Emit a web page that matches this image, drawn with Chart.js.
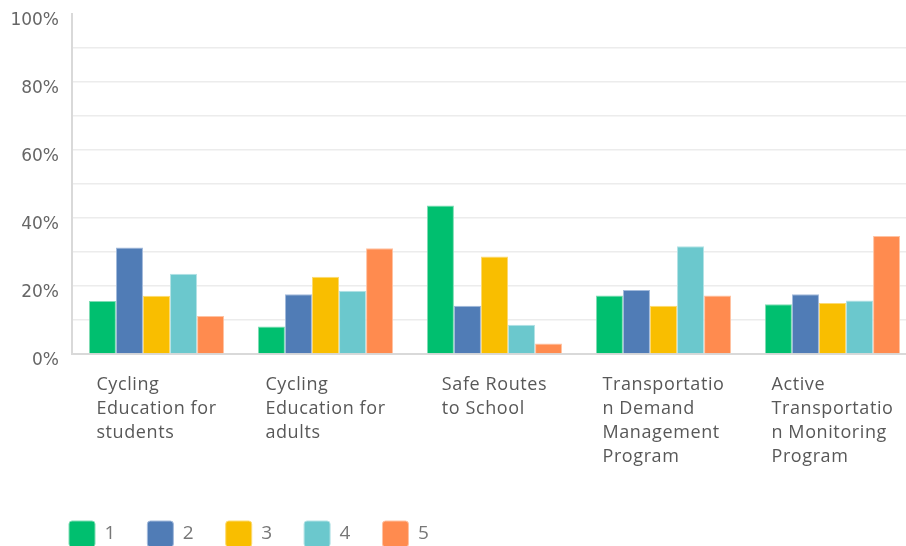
<!DOCTYPE html>
<html>
<head>
<meta charset="utf-8">
<title>Program ratings</title>
<script src="https://cdn.jsdelivr.net/npm/chart.js@4/dist/chart.umd.min.js"></script>
<style>
  html, body { margin: 0; padding: 0; background: #fff; overflow: hidden; }
  #wrap { position: absolute; left: 0; top: 0; width: 917px; height: 557px; }
</style>
</head>
<body>
<div id="wrap"><canvas id="ratings" width="917" height="557"></canvas></div>
<script>
// categories, each one split into lines for the axis labels
const programs = [
  ['Cycling', 'Education for', 'students'],
  ['Cycling', 'Education for', 'adults'],
  ['Safe Routes', 'to School'],
  ['Transportatio', 'n Demand', 'Management', 'Program'],
  ['Active', 'Transportatio', 'n Monitoring', 'Program']
];

// share of answers per rating (percent)
const rating1 = [15.6, 8.1, 43.7, 17.2, 14.6];
const rating2 = [31.3, 17.6, 14.2, 18.8, 17.6];
const rating3 = [17.1, 22.7, 28.7, 14.2, 15.0];
const rating4 = [23.6, 18.6, 8.6, 31.7, 15.7];
const rating5 = [11.2, 31.1, 3.1, 17.2, 34.7];

const ratingNames = ['1', '2', '3', '4', '5'];
const yTicks = [0, 20, 40, 60, 80, 100];

const fills = ['#00bf6f', '#507cb6', '#f9be00', '#6bc8cd', '#ff8b4f'];
const edges = ['#7fdcb4', '#a3badb', '#fcda73', '#b3e2e5', '#ffc2a2'];

const series = [rating1, rating2, rating3, rating4, rating5];

// x labels: block centred under the group, lines left aligned
const groupLabels = {
  id: 'groupLabels',
  afterDraw(chart) {
    const ctx = chart.ctx;
    const xs = chart.scales.x;
    const top = chart.chartArea.bottom + 31;
    ctx.save();
    ctx.font = '18px "Open Sans"';
    ctx.letterSpacing = '0.6px';
    ctx.fillStyle = '#585858';
    ctx.textAlign = 'left';
    ctx.textBaseline = 'middle';
    programs.forEach((lines, i) => {
      const w = Math.max(...lines.map(l => ctx.measureText(l).width));
      const left = xs.getPixelForValue(i) - w / 2;
      lines.forEach((l, k) => ctx.fillText(l, left, top + k * 24));
    });
    ctx.restore();
  }
};

// push the legend row in so it lines up under the plot
const legendShift = {
  id: 'legendShift',
  afterLayout(chart) {
    chart.legend.left = 37;
  }
};

new Chart(document.getElementById('ratings'), {
  type: 'bar',
  data: {
    labels: programs.map(p => p.join(' ')),
    datasets: series.map((vals, i) => ({
      label: ratingNames[i],
      data: vals,
      backgroundColor: fills[i],
      borderColor: edges[i],
      borderWidth: 1,
      categoryPercentage: 0.8,
      barPercentage: 1.0
    }))
  },
  options: {
    responsive: false,
    devicePixelRatio: 1,
    animation: false,
    layout: { padding: { left: 0, top: 14, right: 0, bottom: 0 } },
    plugins: {
      tooltip: { enabled: false },
      legend: {
        position: 'bottom',
        align: 'start',
        labels: {
          boxWidth: 26,
          boxHeight: 26,
          padding: 32,
          useBorderRadius: true,
          borderRadius: 3,
          color: '#777777',
          font: { family: 'Open Sans', size: 19 }
        }
      }
    },
    scales: {
      x: {
        grid: { display: false },
        border: { color: '#d9d9d9', width: 2 },
        ticks: { display: false },
        afterFit(scale) { scale.height = 135; }
      },
      y: {
        min: 0,
        max: 100,
        afterFit(scale) {
          scale.width = 72;
          scale.paddingTop = 0;
          scale.paddingBottom = 0;
        },
        afterBuildTicks(scale) {
          scale.ticks = [];
          for (let v = 0; v <= 100; v += 10) scale.ticks.push({ value: v });
        },
        grid: {
          drawTicks: false,
          lineWidth: 1.5,
          color: c => (c.tick && c.tick.value === 100) ? 'rgba(0,0,0,0)' : '#ececec'
        },
        border: { color: '#d9d9d9', width: 2 },
        ticks: {
          autoSkip: false,
          padding: 13,
          labelOffset: 7,
          color: '#666666',
          font: { family: 'DejaVu Sans', size: 17 },
          callback: v => yTicks.includes(v) ? v + '%' : ''
        }
      }
    }
  },
  plugins: [groupLabels, legendShift]
});
</script>
</body>
</html>
